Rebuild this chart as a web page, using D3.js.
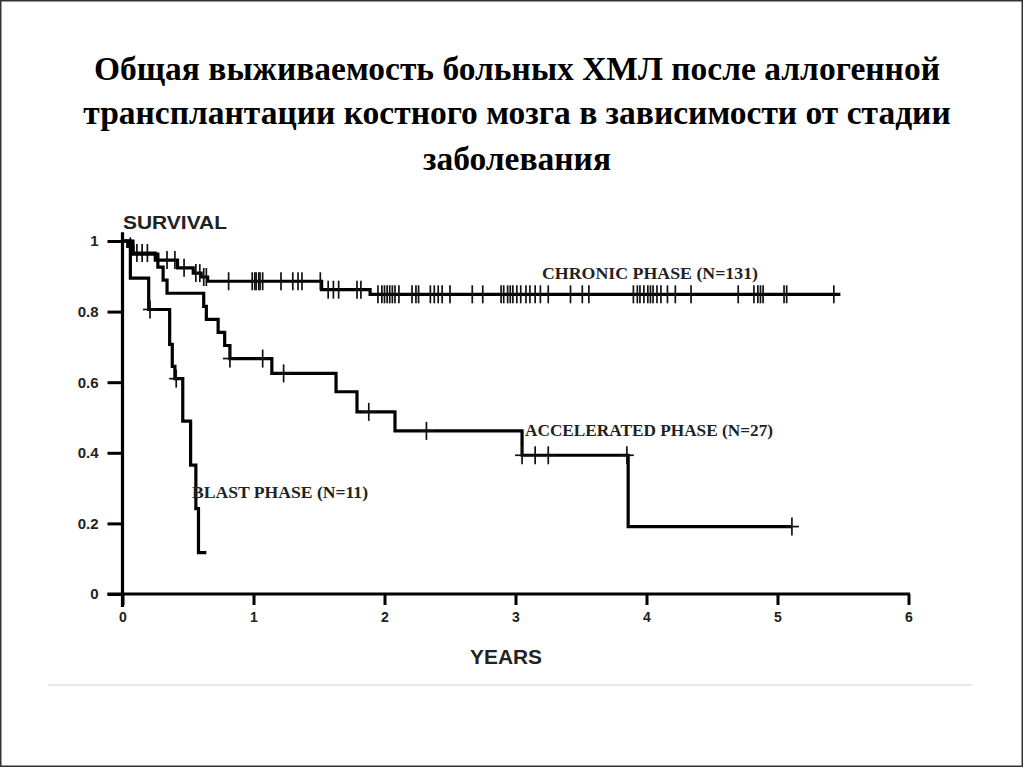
<!DOCTYPE html>
<html>
<head>
<meta charset="utf-8">
<script src="https://cdn.jsdelivr.net/npm/d3@7"></script>
<style>
  html, body { margin: 0; padding: 0; background: #fff; }
  svg { display: block; }
</style>
</head>
<body>
<svg id="chart" width="1024" height="768"></svg>
<script>
// ---------- DATA ----------
const titleLines = [
  "Общая выживаемость больных ХМЛ после аллогенной",
  "трансплантации костного мозга в зависимости от стадии",
  "заболевания"
];
const yTicks = [0, 0.2, 0.4, 0.6, 0.8, 1];
const yTickLabels = ["0", "0.2", "0.4", "0.6", "0.8", "1"];
const xTicks = [0, 1, 2, 3, 4, 5, 6];
const yAxisTitle = "SURVIVAL";
const xAxisTitle = "YEARS";

const seriesNames = ["CHRONIC PHASE (N=131)", "ACCELERATED PHASE (N=27)", "BLAST PHASE (N=11)"];

// step points [years, survival]
const chronicSteps = [[0, 1], [0.04, 0.985], [0.08, 0.966], [0.25, 0.946], [0.42, 0.924],
  [0.54, 0.909], [0.60, 0.898], [0.65, 0.886], [1.52, 0.862], [1.89, 0.849]];
const chronicEnd = 5.48;
const chronicCensored = [0.06, 0.11, 0.15, 0.19, 0.34, 0.40, 0.47, 0.56, 0.59, 0.62, 0.64, 0.81,
  0.99, 1.01, 1.02, 1.04, 1.05, 1.07, 1.21, 1.30, 1.34, 1.37, 1.51, 1.57, 1.61, 1.65, 1.79, 1.82,
  1.95, 1.98, 2.00, 2.02, 2.04, 2.06, 2.08, 2.11, 2.21, 2.24, 2.26, 2.35, 2.38, 2.41, 2.44, 2.50,
  2.67, 2.75, 2.89, 2.91, 2.94, 2.96, 2.98, 3.01, 3.04, 3.08, 3.11, 3.15, 3.19, 3.25, 3.42, 3.51,
  3.56, 3.90, 3.93, 3.95, 3.98, 4.01, 4.03, 4.05, 4.08, 4.11, 4.16, 4.22, 4.34, 4.70, 4.82, 4.85,
  4.87, 4.89, 5.05, 5.07, 5.43];

const accelSteps = [[0, 1], [0.08, 0.963], [0.27, 0.926], [0.31, 0.889], [0.34, 0.852],
  [0.62, 0.815], [0.64, 0.778], [0.73, 0.741], [0.78, 0.704], [0.82, 0.667], [1.14, 0.625],
  [1.63, 0.573], [1.79, 0.516], [2.08, 0.462], [3.05, 0.393], [3.86, 0.191]];
const accelEnd = 5.11;
const accelCensored = [0.82, 1.07, 1.23, 1.88, 2.32, 3.05, 3.15, 3.25, 3.85, 5.11];

const blastSteps = [[0, 1], [0.06, 0.895], [0.20, 0.806], [0.36, 0.707], [0.38, 0.645],
  [0.40, 0.61], [0.46, 0.49], [0.52, 0.365], [0.56, 0.242], [0.58, 0.117]];
const blastEnd = 0.64;
const blastCensored = [0.21, 0.41];

// ---------- DRAWING ----------
const svg = d3.select("#chart");

// page frame
svg.append("rect").attr("x", 0.75).attr("y", 0.75).attr("width", 1021.5).attr("height", 765.5)
  .attr("fill", "none").attr("stroke", "#333").attr("stroke-width", 1.5);
svg.append("line").attr("x1", 48).attr("x2", 972).attr("y1", 685).attr("y2", 685)
  .attr("stroke", "#e8e8e8").attr("stroke-width", 2);

// title
const titleY = [80, 124, 170];
svg.append("g").selectAll("text").data(titleLines).join("text")
  .attr("x", 517).attr("y", (d, i) => titleY[i])
  .attr("text-anchor", "middle")
  .attr("font-family", "'Liberation Serif', 'Times New Roman', serif")
  .attr("font-weight", "bold").attr("font-size", 33.5).attr("fill", "#000")
  .text(d => d);

const x = d3.scaleLinear().domain([0, 6]).range([122.5, 908.5]);
const y = d3.scaleLinear().domain([0, 1]).range([594, 241]);

const axisFont = "'Liberation Sans', Arial, sans-serif";

// y axis
const yAxis = svg.append("g").attr("transform", `translate(${x(0)},0)`)
  .call(d3.axisLeft(y).tickValues(yTicks).tickFormat((d, i) => yTickLabels[i])
    .tickSize(15).tickSizeOuter(0).tickPadding(9));
yAxis.select(".domain").remove();
yAxis.selectAll(".tick line").attr("stroke", "#000").attr("stroke-width", 3);
yAxis.selectAll(".tick text").attr("font-family", axisFont).attr("font-weight", "bold")
  .attr("font-size", 15).attr("fill", "#222");

// x axis
const xAxis = svg.append("g").attr("transform", `translate(0,${y(0)})`)
  .call(d3.axisBottom(x).tickValues(xTicks).tickFormat(d3.format("d"))
    .tickSize(11).tickSizeOuter(0).tickPadding(7));
xAxis.select(".domain").remove();
xAxis.selectAll(".tick line").attr("stroke", "#000").attr("stroke-width", 3);
xAxis.selectAll(".tick text").attr("font-family", axisFont).attr("font-weight", "bold")
  .attr("font-size", 14).attr("fill", "#222");

// axis lines
svg.append("line").attr("x1", x(0)).attr("x2", x(0)).attr("y1", y(1.025)).attr("y2", y(0) + 13)
  .attr("stroke", "#000").attr("stroke-width", 3.2);
svg.append("line").attr("x1", x(0) - 15).attr("x2", x(6) + 1.5).attr("y1", y(0)).attr("y2", y(0))
  .attr("stroke", "#000").attr("stroke-width", 3.2);

// axis titles
svg.append("text").attr("x", 123).attr("y", 229).text(yAxisTitle)
  .attr("font-family", axisFont).attr("font-weight", "bold").attr("font-size", 19)
  .attr("fill", "#222").attr("textLength", 104).attr("lengthAdjust", "spacingAndGlyphs");
svg.append("text").attr("x", 470).attr("y", 664).text(xAxisTitle)
  .attr("font-family", axisFont).attr("font-weight", "bold").attr("font-size", 20)
  .attr("fill", "#222").attr("textLength", 72).attr("lengthAdjust", "spacingAndGlyphs");

// curves
const series = [
  { name: seriesNames[0], steps: chronicSteps, end: chronicEnd, cens: chronicCensored, lx: 542, ly: 279, lw: 216, plus: false },
  { name: seriesNames[1], steps: accelSteps, end: accelEnd, cens: accelCensored, lx: 525, ly: 436, lw: 248, plus: true },
  { name: seriesNames[2], steps: blastSteps, end: blastEnd, cens: blastCensored, lx: 192, ly: 498, lw: 176, plus: true }
];

const line = d3.line().x(d => x(d[0])).y(d => y(d[1])).curve(d3.curveStepAfter);
const survAt = (steps, t) => {
  let s = steps[0][1];
  for (const p of steps) { if (p[0] <= t + 1e-9) s = p[1]; }
  return s;
};

series.forEach(sr => {
  const pts = sr.steps.concat([[sr.end, sr.steps[sr.steps.length - 1][1]]]);
  const g = svg.append("g");
  g.append("path").attr("d", line(pts)).attr("fill", "none")
    .attr("stroke", "#000").attr("stroke-width", 3.2).attr("stroke-linejoin", "miter");
  sr.cens.forEach(t => {
    const cx = x(t), cy = y(survAt(sr.steps, t));
    g.append("line").attr("x1", cx).attr("x2", cx).attr("y1", cy - 9).attr("y2", cy + 9)
      .attr("stroke", "#111").attr("stroke-width", 1.7);
    if (sr.plus) {
      g.append("line").attr("x1", cx - 7).attr("x2", cx + 7).attr("y1", cy).attr("y2", cy)
        .attr("stroke", "#111").attr("stroke-width", 1.7);
    }
  });
});

// curve labels
svg.append("g").selectAll("text").data(series).join("text")
  .attr("x", d => d.lx).attr("y", d => d.ly).text(d => d.name)
  .attr("font-family", "'Liberation Serif', 'Times New Roman', serif")
  .attr("font-weight", "bold").attr("font-size", 16).attr("fill", "#222")
  .attr("textLength", d => d.lw).attr("lengthAdjust", "spacingAndGlyphs");
</script>
</body>
</html>
